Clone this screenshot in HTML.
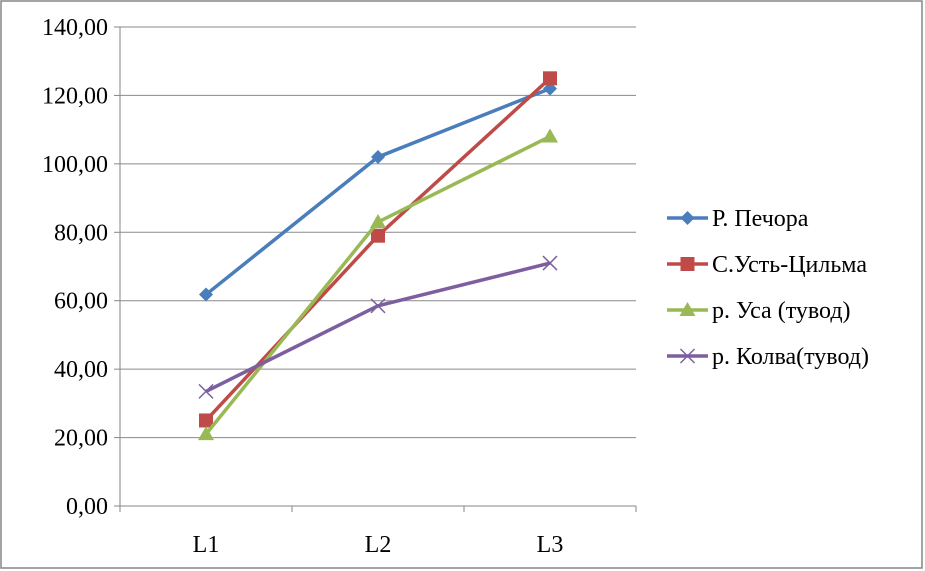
<!DOCTYPE html>
<html><head><meta charset="utf-8">
<style>
html,body{margin:0;padding:0;background:#fff;}
svg{display:block;}
text{font-family:"Liberation Serif","DejaVu Serif",serif;}
</style></head>
<body>
<svg id="chart" width="925" height="571" viewBox="0 0 925 571" xmlns="http://www.w3.org/2000/svg" font-family="Liberation Serif, serif">
<rect x="1" y="1" width="921" height="567" fill="#fff" stroke="#868686" stroke-width="1.5"/>
<g id="grid"></g><g id="axes"></g><g id="series"></g><g id="legend"></g>
</svg>
<script>
const categories = ["L1","L2","L3"];
const seriesNames = ["Р. Печора","С.Усть-Цильма","р.  Уса (тувод)","р. Колва(тувод)"];
const pechora = [61.8, 102, 122];
const tsilma = [25, 79, 125];
const usa = [21, 83, 108];
const kolva = [33.5, 58.5, 71];
const yTicks = [0,20,40,60,80,100,120,140];
const yTickLabels = ["0,00","20,00","40,00","60,00","80,00","100,00","120,00","140,00"];

const NS="http://www.w3.org/2000/svg";
const FONT='Liberation Serif, serif';
const X0=120, X1=636, Y0=506, Y1=27, YMAX=140;
const y = v => Y0 - (v/YMAX)*(Y0-Y1);
const bw = (X1-X0)/categories.length;
const x = i => X0 + bw*(i+0.5);
function mk(tag, attrs, parent){const e=document.createElementNS(NS,tag);for(const k in attrs)e.setAttribute(k,attrs[k]);parent.appendChild(e);return e;}
const grid=document.getElementById('grid'), axes=document.getElementById('axes'), ser=document.getElementById('series'), leg=document.getElementById('legend');

yTicks.forEach((t,i)=>{
  if(t>0){const g=mk('line',{x1:X0,x2:X1,y1:y(t),y2:y(t),stroke:'#8a8a8a','stroke-width':1},grid);
  
  }
  const tk=mk('line',{x1:X0-6,x2:X0,y1:y(t),y2:y(t),stroke:'#868686'},axes);
  
  
  const tx=mk('text',{x:X0-12,y:y(t)+8,'text-anchor':'end','font-size':24,'font-family':FONT,fill:'#000'},axes);
  tx.textContent=yTickLabels[i];
  
  
});
const ya=mk('line',{x1:X0,x2:X0,y1:Y1,y2:Y0,stroke:'#868686'},axes);


const xa=mk('line',{x1:X0,x2:X1,y1:Y0,y2:Y0,stroke:'#868686'},axes);


for(let i=0;i<=categories.length;i++){
  const tk=mk('line',{x1:X0+bw*i,x2:X0+bw*i,y1:Y0,y2:Y0+6,stroke:'#868686'},axes);
  
  
}
categories.forEach((c,i)=>{
  const tx=mk('text',{x:x(i),y:Y0+46,'text-anchor':'middle','font-size':24,'font-family':FONT,fill:'#000'},axes);
  tx.textContent=c;
  
  
});

const colors=['#4a7ebb','#be4b48','#98b954','#7d5fa0'];
const data=[pechora,tsilma,usa,kolva];
function marker(k,cx,cy,parent){
  const c=colors[k];let m;
  if(k===0) m=mk('polygon',{points:`${cx},${cy-7} ${cx+7},${cy} ${cx},${cy+7} ${cx-7},${cy}`,fill:c},parent);
  else if(k===1) m=mk('rect',{x:cx-7,y:cy-7,width:14,height:14,fill:c},parent);
  else if(k===2) m=mk('polygon',{points:`${cx},${cy-8} ${cx+8},${cy+6} ${cx-8},${cy+6}`,fill:c},parent);
  else m=mk('path',{d:`M${cx-7},${cy-7}L${cx+7},${cy+7}M${cx-7},${cy+7}L${cx+7},${cy-7}`,stroke:c,'stroke-width':1.5,fill:'none'},parent);
  return m;
}
data.forEach((arr,k)=>{
  const g=mk('g',{},ser);
  
  
  const pl=mk('polyline',{points:arr.map((v,i)=>x(i)+','+y(v)).join(' '),fill:'none',stroke:colors[k],'stroke-width':3.5,'stroke-linejoin':'round'},g);
  
  
  arr.forEach((v,i)=>{
    const m=marker(k,x(i),y(v),g);
    
    
  });
  const ly=218+k*46;
  const lg=mk('g',{},leg);
  
  
  mk('line',{x1:667,x2:708,y1:ly,y2:ly,stroke:colors[k],'stroke-width':3.5},lg);
  marker(k,687.5,ly,lg);
  const t=mk('text',{x:712,y:ly+8,'font-size':24,'font-family':FONT,fill:'#000'},lg);
  t.textContent=seriesNames[k];
});
</script>
</body></html>
